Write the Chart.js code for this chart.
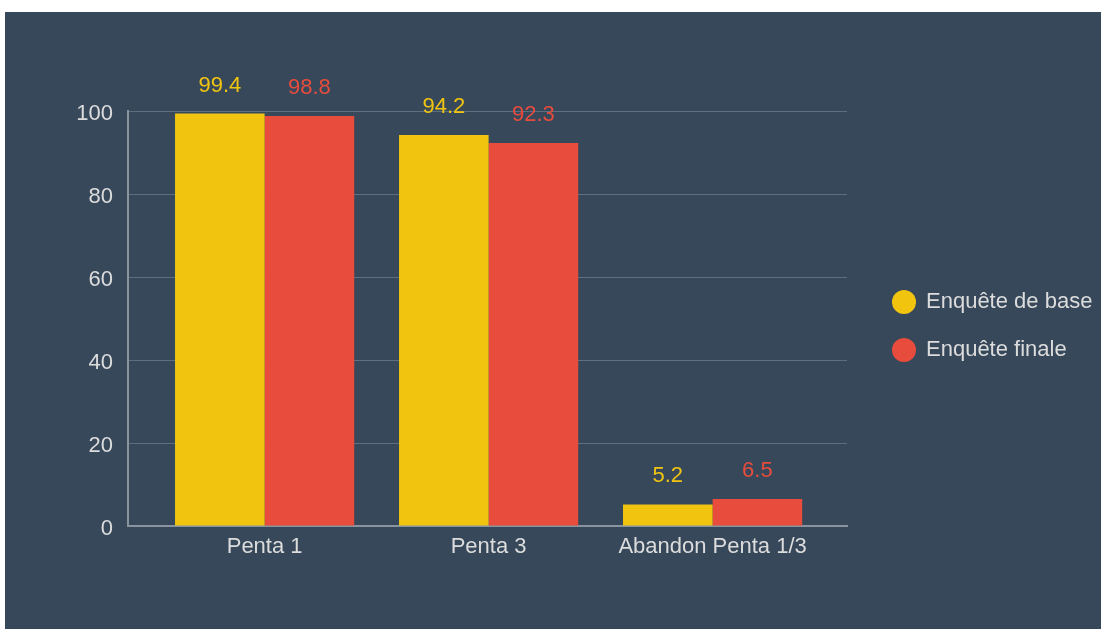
<!DOCTYPE html>
<html>
<head>
<meta charset="utf-8">
<script src="https://cdn.jsdelivr.net/npm/chart.js@4/dist/chart.umd.min.js"></script>
<style>
  body { margin: 0; background: #fff; }
  #box { position: absolute; left: 5px; top: 12px; width: 1096px; height: 617px; background: #37485b; }
</style>
</head>
<body>
<div id="box"><canvas id="chart"></canvas></div>
<script>
// data
let categories = ["Penta 1", "Penta 3", "Abandon Penta 1/3"];
let baseValues = [99.4, 94.2, 5.2];
let finalValues = [98.8, 92.3, 6.5];
let seriesNames = ["Enquête de base", "Enquête finale"];
let yTicks = [0, 20, 40, 60, 80, 100];

let yellow = "#f1c40f";
let red = "#e74c3c";
let textColor = "#dcdcdc";

// linear x axis so the bars sit inside a wider plot
function toPoints(vals) {
    return vals.map((v, i) => ({ x: i, y: v }));
}

// value labels above the bars
let valueLabels = {
    id: "valueLabels",
    afterDatasetsDraw(chart) {
        let ctx = chart.ctx;
        ctx.save();
        ctx.font = "22px 'Liberation Sans', Arial, sans-serif";
        ctx.textAlign = "center";
        ctx.textBaseline = "middle";
        chart.data.datasets.forEach((ds, di) => {
            chart.getDatasetMeta(di).data.forEach((bar, i) => {
                ctx.fillStyle = ds.backgroundColor;
                ctx.fillText(ds.data[i].y.toFixed(1), bar.x, bar.y - 28);
            });
        });
        ctx.restore();
    }
};

Chart.defaults.font.family = "'Liberation Sans', Arial, sans-serif";
Chart.defaults.font.size = 22;
Chart.defaults.color = textColor;

new Chart(document.getElementById("chart"), {
    type: "bar",
    data: {
        datasets: [
            { label: seriesNames[0], data: toPoints(baseValues), backgroundColor: yellow, borderWidth: 0 },
            { label: seriesNames[1], data: toPoints(finalValues), backgroundColor: red, borderWidth: 0 }
        ]
    },
    options: {
        responsive: true,
        maintainAspectRatio: false,
        animation: false,
        categoryPercentage: 0.8,
        barPercentage: 1,
        layout: { padding: { top: 99, right: 0, bottom: 0, left: 0 } },
        plugins: {
            tooltip: { enabled: false },
            legend: {
                position: "right",
                fullSize: false,
                maxWidth: 234,
                title: { display: true, text: "", font: { size: 10 }, padding: { top: 3, bottom: 0 } },
                labels: {
                    usePointStyle: true,
                    pointStyle: "circle",
                    boxWidth: 22,
                    boxHeight: 17,
                    padding: 26,
                    color: textColor,
                    font: { size: 22 }
                }
            }
        },
        scales: {
            x: {
                type: "linear",
                offset: false,
                min: -0.61,
                max: 2.6,
                grid: { display: false, drawTicks: false, offset: false },
                border: { display: true, color: "#8a949f", width: 2 },
                ticks: {
                    stepSize: 1,
                    includeBounds: false,
                    padding: 8,
                    color: textColor,
                    callback: (v) => categories[v] ?? ""
                },
                afterFit: (s) => { s.height = 103; }
            },
            y: {
                min: 0,
                max: 100,
                grid: { color: "#5f6f80", lineWidth: 1, drawTicks: false },
                border: { display: true, color: "#8a949f", width: 2 },
                ticks: { stepSize: 20, padding: 15, labelOffset: 3, color: textColor,
                    callback: (v) => yTicks.includes(v) ? v : "" },
                afterFit: (s) => { s.width = 123; }
            },
            y2: {
                position: "right",
                display: true,
                grid: { display: false, drawTicks: false },
                border: { display: false },
                ticks: { display: false },
                afterFit: (s) => { s.width = 20; }
            }
        }
    },
    plugins: [valueLabels]
});
</script>
</body>
</html>
